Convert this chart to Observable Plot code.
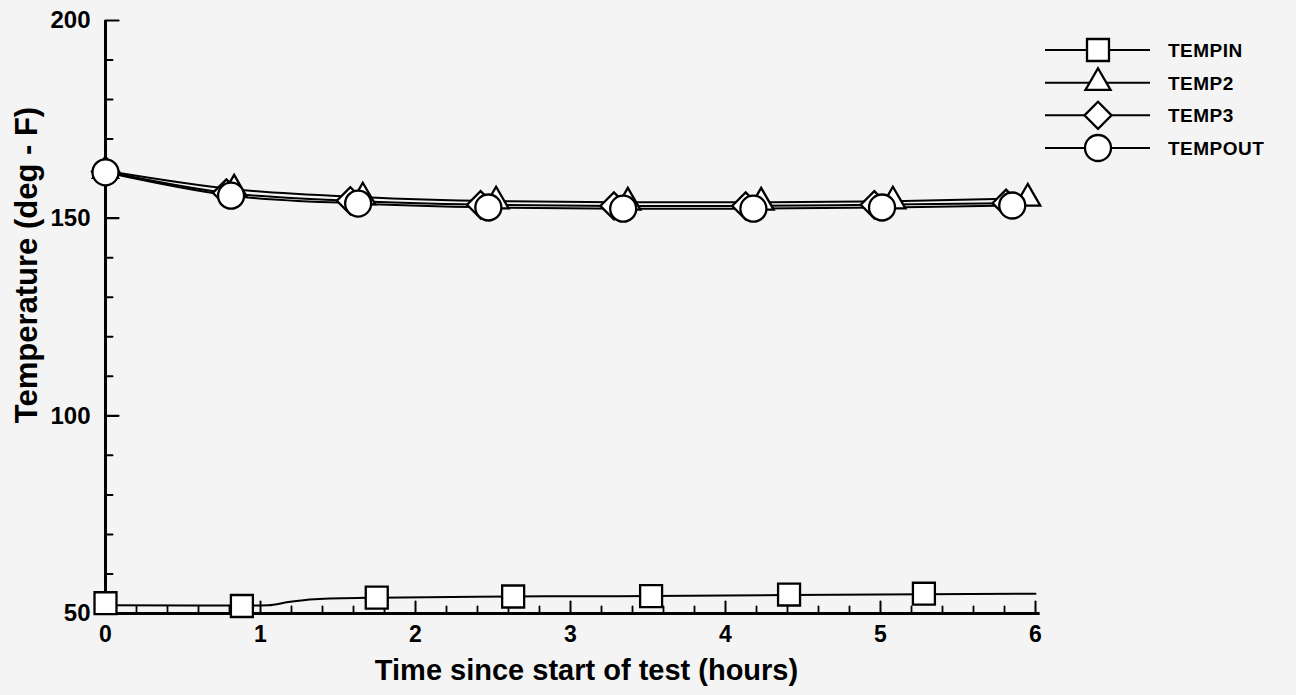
<!DOCTYPE html>
<html><head><meta charset="utf-8">
<script src="https://cdn.jsdelivr.net/npm/d3@7"></script>
<script src="https://cdn.jsdelivr.net/npm/@observablehq/plot@0.6"></script>
<style>
body{margin:0;background:#f4f4f4;}
#wrap{position:relative;width:1296px;height:695px;overflow:hidden;}
</style></head><body><div id="wrap"></div>
<script>
// ---- data ----
const seriesNames = ["TEMPIN", "TEMP2", "TEMP3", "TEMPOUT"];
const seriesSymbols = ["square", "triangle", "diamond2", "circle"];

// TEMPIN markers and line
const tempinT = [0, 0.88, 1.75, 2.63, 3.52, 4.41, 5.28];
const tempinV = [52.6, 51.9, 54.0, 54.3, 54.4, 54.8, 55.0];
const tempinLineT = [0, 0.88, 1.05, 1.18, 1.35, 1.75, 2.63, 3.52, 4.41, 5.28, 6.0];
const tempinLineV = [52.1, 52.0, 52.1, 52.9, 53.6, 54.0, 54.3, 54.4, 54.7, 54.9, 55.0];

// TEMP2 (triangles)
const temp2T = [0, 0.83, 1.66, 2.52, 3.37, 4.23, 5.08, 5.95];
const temp2V = [162.0, 157.3, 155.3, 154.3, 154.0, 154.0, 154.3, 155.0];

// TEMP3 (diamonds)
const temp3T = [0, 0.78, 1.58, 2.42, 3.28, 4.13, 4.96, 5.81];
const temp3V = [161.8, 156.4, 154.4, 153.4, 153.1, 153.1, 153.4, 153.8];
const temp3End = [5.95, 153.9];

// TEMPOUT (circles)
const tempoutT = [0, 0.81, 1.63, 2.47, 3.34, 4.18, 5.01, 5.85];
const tempoutV = [161.6, 155.7, 153.7, 152.7, 152.4, 152.4, 152.7, 153.2];
const tempoutEnd = [5.95, 153.3];

// axis ticks and labels
const xMajor = [0, 1, 2, 3, 4, 5, 6];
const xMinor = [0.2,0.4,0.6,0.8,1.2,1.4,1.6,1.8,2.2,2.4,2.6,2.8,3.2,3.4,3.6,3.8,4.2,4.4,4.6,4.8,5.2,5.4,5.6,5.8];
const yMajor = [50, 100, 150, 200];
const yMinor = [60, 70, 80, 90, 110, 120, 130, 140, 160, 170, 180, 190];
const xTitle = "Time since start of test (hours)";
const yTitle = "Temperature (deg - F)";

// ---- build tables ----
const zip = (T, V) => T.map((t, i) => ({t, v: V[i]}));
const markers = [
  zip(tempinT, tempinV),
  zip(temp2T, temp2V),
  zip(temp3T, temp3V),
  zip(tempoutT, tempoutV)
];
const lines = [
  zip(tempinLineT, tempinLineV),
  zip(temp2T, temp2V),
  zip([...temp3T, temp3End[0]], [...temp3V, temp3End[1]]),
  zip([...tempoutT, tempoutEnd[0]], [...tempoutV, tempoutEnd[1]])
];
const radii = [12.4, 9.3, 12.2, 13];

const tickShape = {draw(context, l) { context.moveTo(0, 0); context.lineTo(0, -l); }};
const FONT = "Liberation Sans, Arial, Helvetica, sans-serif";

const chart = Plot.plot({
  width: 1296,
  height: 695,
  marginLeft: 105,
  marginRight: 261,
  marginTop: 20,
  marginBottom: 82,
  style: {background: "transparent", fontFamily: FONT, color: "black"},
  x: {domain: [0, 6]},
  y: {domain: [50, 200]},
  marks: [
    // axis lines
    Plot.ruleX([0], {y1: 50, y2: 200, stroke: "black", strokeWidth: 3}),
    Plot.ruleY([50], {x1: 0, x2: 6.03, stroke: "black", strokeWidth: 3}),
    // y ticks (inward)
    Plot.vector(yMajor, {x: () => 0, y: d => d, length: 13, rotate: 90, anchor: "start", shape: tickShape, stroke: "black", strokeWidth: 2.2}),
    Plot.vector(yMinor, {x: () => 0, y: d => d, length: 7, rotate: 90, anchor: "start", shape: tickShape, stroke: "black", strokeWidth: 2}),
    // x ticks (upward)
    Plot.vector(xMajor.filter(d => d > 0), {x: d => d, y: () => 50, length: 12, anchor: "start", shape: tickShape, stroke: "black", strokeWidth: 2}),
    Plot.vector(xMinor, {x: d => d, y: () => 50, length: 7, anchor: "start", shape: tickShape, stroke: "black", strokeWidth: 1.8}),
    // tick labels
    Plot.axisX({ticks: xMajor, tickSize: 0, tickPadding: 12, fontSize: 23, fontWeight: "bold", label: null, tickFormat: d => String(d)}),
    Plot.axisY({ticks: yMajor, tickSize: 0, tickPadding: 15, fontSize: 24, fontWeight: "bold", label: null, tickFormat: d => String(d)}),
    // titles
    Plot.text([xTitle], {frameAnchor: "bottom", dx: 16, dy: 66, fontSize: 29, fontWeight: "bold", fill: "black"}),
    Plot.text([yTitle], {frameAnchor: "left", textAnchor: "middle", rotate: -90, dx: -78, dy: -52, fontSize: 31, fontWeight: "bold", fill: "black"}),
    // series lines
    ...lines.map(L => Plot.line(L, {x: "t", y: "v", stroke: "black", strokeWidth: 2, curve: "monotone-x"})),
    // markers: squares, triangles, diamonds, circles (circles on top)
    ...markers.map((M, i) => Plot.dot(M, {x: "t", y: "v", symbol: seriesSymbols[i], r: radii[i], fill: "white", stroke: "black", strokeWidth: 2.3}))
  ]
});
document.getElementById("wrap").appendChild(chart);

// ---- legend ----
const symMap = {square: d3.symbolSquare, triangle: d3.symbolTriangle, diamond2: d3.symbolDiamond2, circle: d3.symbolCircle};
const leg = d3.select("#wrap").append("svg")
  .attr("width", 260).attr("height", 160)
  .style("position", "absolute").style("left", "1036px").style("top", "30px")
  .style("font-family", FONT);
const rowY = d3.scalePoint().domain(seriesNames).range([20, 118]);
seriesNames.forEach((name, i) => {
  const g = leg.append("g").attr("transform", `translate(0,${rowY(name)})`);
  g.append("line").attr("x1", 9).attr("x2", 114).attr("y1", 0).attr("y2", 0).attr("stroke", "black").attr("stroke-width", 2);
  g.append("path").attr("transform", "translate(62,0)")
    .attr("d", d3.symbol(symMap[seriesSymbols[i]], radii[i] * radii[i] * Math.PI)())
    .attr("fill", "white").attr("stroke", "black").attr("stroke-width", 2.3);
  g.append("text").attr("x", 132).attr("y", 0).attr("dy", "0.36em")
    .attr("font-size", 19).attr("font-weight", "bold").attr("letter-spacing", "0.5px").text(name);
});
</script>
</body></html>
